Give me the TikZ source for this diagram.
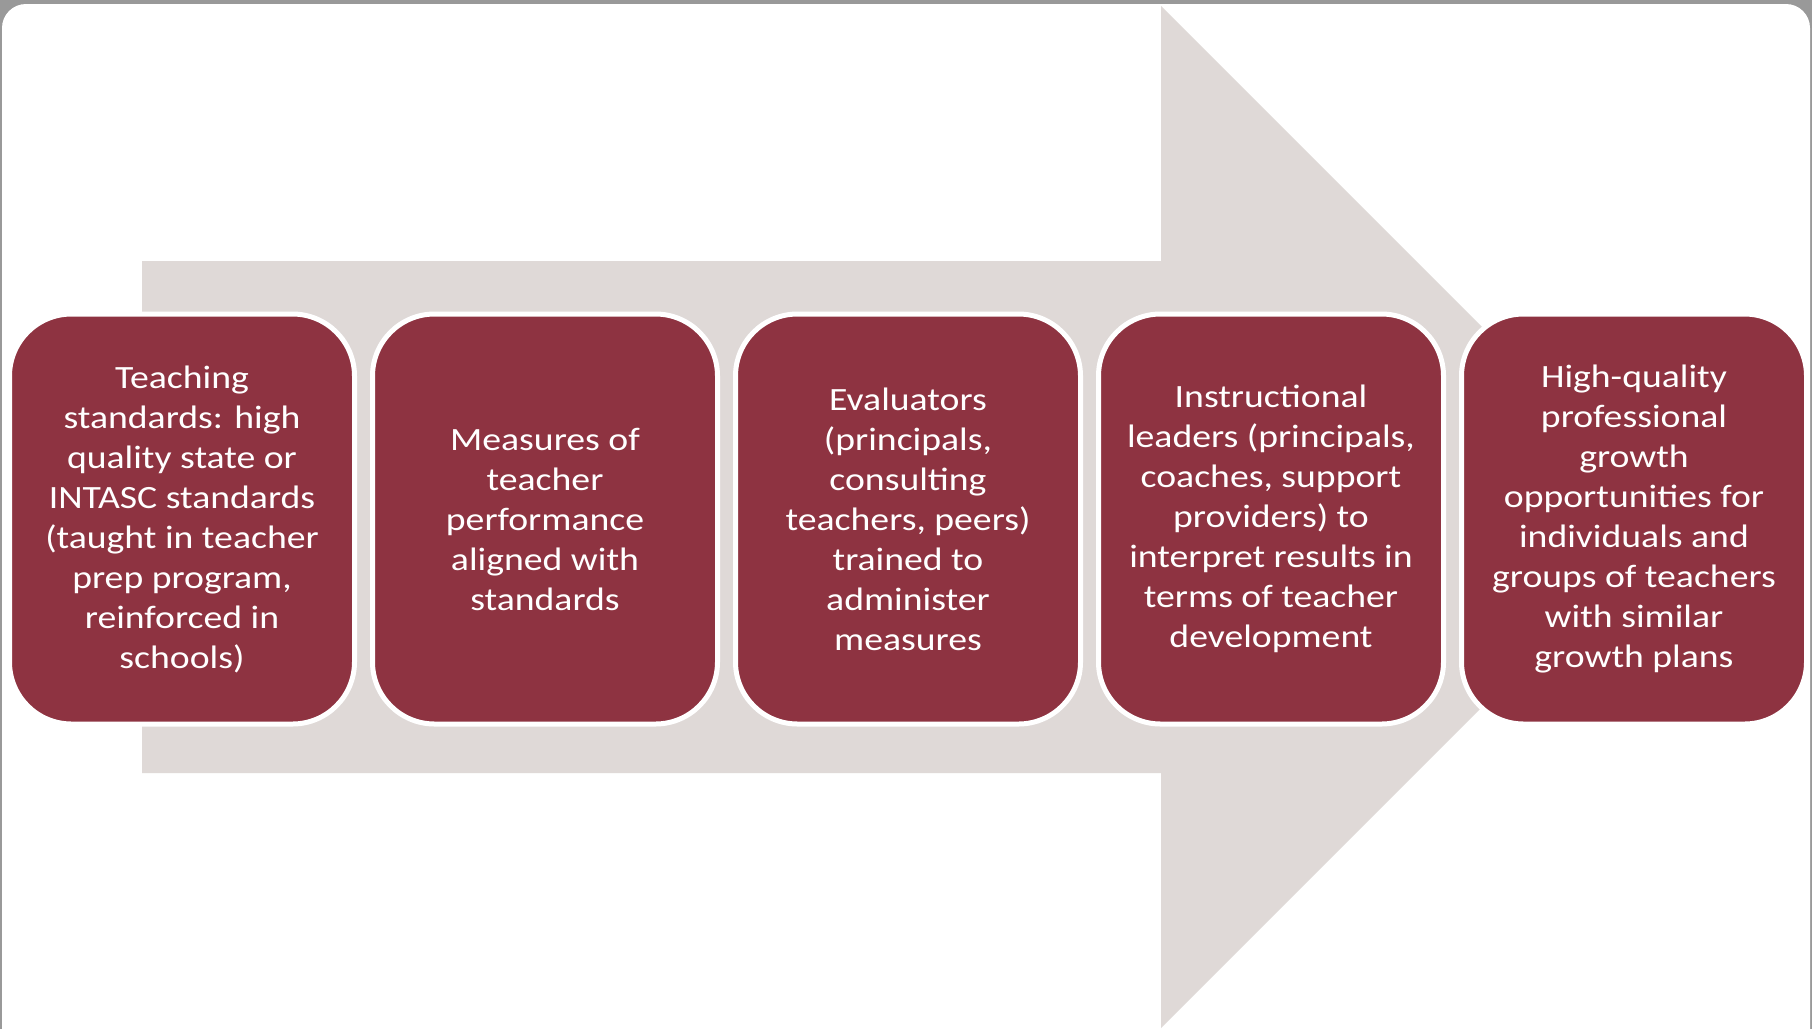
\documentclass[tikz,border=0pt]{standalone}
\usepackage{fontspec}
\setmainfont[FakeStretch=1.16]{Carlito}

\definecolor{framegray}{RGB}{153,153,153}
\definecolor{arrowgray}{RGB}{223,217,215}
\definecolor{maroon}{RGB}{142,51,65}

\begin{document}
\begin{tikzpicture}[x=1pt,y=-1pt,
        stage/.style={draw=white, line width=5pt, fill=maroon, rounded corners=62pt,
            minimum width=345pt, minimum height=410pt, inner sep=0pt,
            text=white, align=center, font=\fontsize{32.5}{40}\selectfont}]
        \useasboundingbox (0,0) rectangle (1812,1029);
        % frame
        \fill[framegray] (0,0) rectangle (1812,1029);
        \fill[white, rounded corners=24pt] (2,4) rectangle (1810,1090);
        % big arrow behind the stages
        \fill[arrowgray] (142,261) -- (1161,261) -- (1161,6) -- (1672,517)
            -- (1161,1028) -- (1161,773) -- (142,773) -- cycle;
        % stages
        \node[stage] (standards) at (182,519) {Teaching\\standards: high\\quality state or\\INTASC standards\\(taught in teacher\\prep program,\\reinforced in\\schools)};
        \node[stage] (measures) at (545,519) {Measures of\\teacher\\performance\\aligned with\\standards};
        \node[stage] (evaluators) at (908,519) {Evaluators\\(principals,\\consulting\\teachers, peers)\\trained to\\administer\\measures};
        \node[stage] (leaders) at (1271,519) {Instructional\\leaders (principals,\\coaches, support\\providers) to\\interpret results in\\terms of teacher\\development};
        \node[stage] (growth) at (1634,519) {High-quality\\professional\\growth\\opportunities for\\individuals and\\groups of teachers\\with similar\\growth plans};
    \end{tikzpicture}
\end{document}
